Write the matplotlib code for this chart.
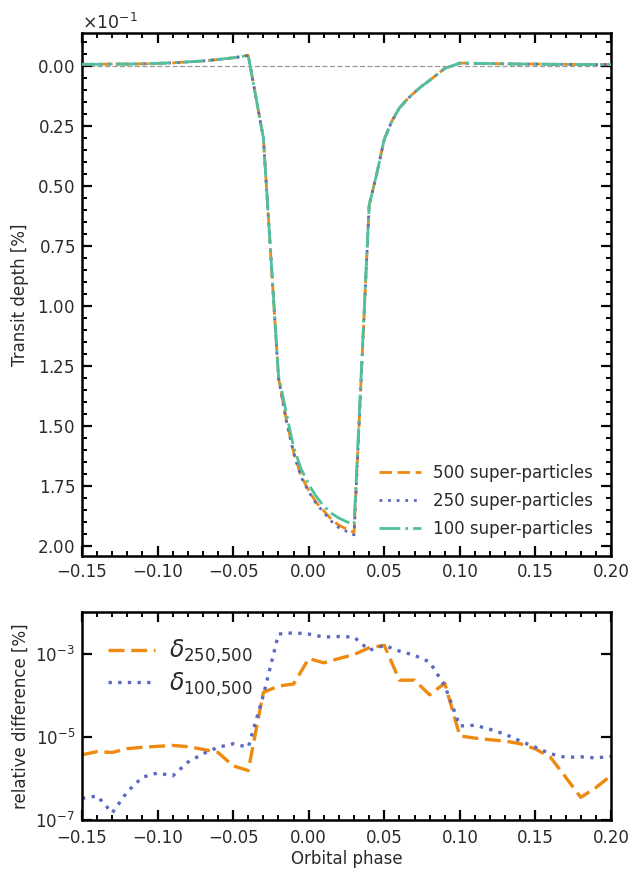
import matplotlib
matplotlib.use("Agg")
import matplotlib.pyplot as plt
from matplotlib.ticker import MultipleLocator, FixedLocator, NullLocator, LogFormatterMathtext

# ---------------- data ----------------
# Top panel: transit depth [%] vs orbital phase
phase_top = [-0.15, -0.14, -0.13, -0.12, -0.11, -0.10, -0.09, -0.08, -0.07, -0.06,
             -0.05, -0.04, -0.03, -0.02, -0.015, -0.01, -0.005, 0.0, 0.005, 0.01,
             0.015, 0.02, 0.025, 0.03, 0.04, 0.045, 0.05, 0.055, 0.06, 0.065,
             0.07, 0.075, 0.08, 0.09, 0.10, 0.11, 0.12, 0.13, 0.14, 0.15,
             0.16, 0.17, 0.18, 0.19, 0.20]
depth_500 = [-0.0007, -0.0007, -0.0008, -0.0008, -0.0009, -0.0011, -0.0013, -0.0017, -0.0021, -0.0027,
             -0.0034, -0.0044, 0.0300, 0.1300, 0.1470, 0.1610, 0.1710, 0.1770, 0.1820, 0.1855,
             0.1890, 0.1915, 0.1930, 0.1945, 0.0580, 0.0450, 0.0305, 0.0230, 0.0175, 0.0140,
             0.0110, 0.0083, 0.0060, 0.0010, -0.0012, -0.0011, -0.0010, -0.0009, -0.0008, -0.0008,
             -0.0007, -0.0007, -0.0006, -0.0006, -0.0006]
depth_250 = [-0.0007, -0.0007, -0.0008, -0.0008, -0.0009, -0.0011, -0.0013, -0.0017, -0.0021, -0.0027,
             -0.0034, -0.0044, 0.0300, 0.1300, 0.1475, 0.1615, 0.1715, 0.1775, 0.1825, 0.1862,
             0.1898, 0.1925, 0.1940, 0.1955, 0.0580, 0.0450, 0.0305, 0.0230, 0.0175, 0.0140,
             0.0110, 0.0083, 0.0060, 0.0010, -0.0012, -0.0011, -0.0010, -0.0009, -0.0008, -0.0008,
             -0.0007, -0.0007, -0.0006, -0.0006, -0.0006]
depth_100 = [-0.0007, -0.0007, -0.0008, -0.0008, -0.0009, -0.0011, -0.0013, -0.0017, -0.0021, -0.0027,
             -0.0034, -0.0044, 0.0300, 0.1290, 0.1440, 0.1590, 0.1680, 0.1745, 0.1795, 0.1835,
             0.1865, 0.1885, 0.1900, 0.1910, 0.0580, 0.0450, 0.0305, 0.0230, 0.0175, 0.0140,
             0.0110, 0.0083, 0.0060, 0.0010, -0.0012, -0.0011, -0.0010, -0.0009, -0.0008, -0.0008,
             -0.0007, -0.0007, -0.0006, -0.0006, -0.0006]

# Bottom panel: relative difference [%]
phase_bot = [-0.15, -0.14, -0.13, -0.12, -0.11, -0.10, -0.09, -0.08, -0.07, -0.06,
             -0.05, -0.04, -0.03, -0.02, -0.01, 0.00, 0.01, 0.02, 0.03, 0.04,
             0.05, 0.06, 0.07, 0.08, 0.09, 0.10, 0.11, 0.12, 0.13, 0.14,
             0.15, 0.16, 0.17, 0.18, 0.19, 0.20]
delta_250_500 = [3.7e-6, 4.4e-6, 4.2e-6, 5.2e-6, 5.6e-6, 5.9e-6, 6.2e-6, 5.8e-6, 5.0e-6, 4.2e-6,
                 2.0e-6, 1.55e-6, 1.17e-4, 1.66e-4, 1.86e-4, 7.6e-4, 6.0e-4, 7.6e-4, 9.5e-4, 1.38e-3,
                 1.58e-3, 2.3e-4, 2.3e-4, 1.02e-4, 1.95e-4, 1.05e-5, 9.3e-6, 8.5e-6, 7.9e-6, 6.8e-6,
                 5.1e-6, 3.2e-6, 1.07e-6, 3.5e-7, 6.0e-7, 1.17e-6]
delta_100_500 = [3.3e-7, 3.8e-7, 1.48e-7, 4.8e-7, 1.07e-6, 1.35e-6, 1.15e-6, 2.45e-6, 3.9e-6, 5.6e-6,
                 6.8e-6, 5.6e-6, 1.0e-4, 2.95e-3, 3.16e-3, 2.95e-3, 2.5e-3, 2.57e-3, 2.5e-3, 1.2e-3,
                 1.58e-3, 1.15e-3, 9.1e-4, 6.3e-4, 1.7e-4, 1.82e-5, 1.9e-5, 1.51e-5, 1.15e-5, 7.9e-6,
                 5.6e-6, 3.9e-6, 3.2e-6, 3.3e-6, 3.1e-6, 3.4e-6]

labels_top = ["500 super-particles", "250 super-particles", "100 super-particles"]
labels_bot = [r"$\delta_{250{,}500}$", r"$\delta_{100{,}500}$"]

# ---------------- style ----------------
C_OR = "#ee8a10"
C_BL = "#5b69c0"
C_GR = "#4fc1a0"
TXT = "#2a2a2a"

plt.rcParams.update({
    "font.family": ["DejaVu Sans"],
    "font.size": 12,
    "text.color": TXT,
    "axes.labelcolor": TXT,
    "xtick.color": "black",
    "ytick.color": "black",
    "xtick.labelcolor": TXT,
    "ytick.labelcolor": TXT,
    "axes.linewidth": 1.8,
    "mathtext.fontset": "dejavusans",
})

fig = plt.figure(figsize=(6.31, 8.73), dpi=100)
W, H = 631, 873
ax1 = fig.add_axes([82 / W, (H - 556) / H, 529 / W, (556 - 33) / H])
ax2 = fig.add_axes([82 / W, (H - 820) / H, 529 / W, (820 - 612) / H])


def style_ticks(ax):
    ax.tick_params(which="both", direction="in", top=True, right=True)
    ax.tick_params(which="major", length=7, width=1.6, labelsize=12, pad=5)
    ax.tick_params(which="minor", length=3.6, width=1.4)


# top panel
ax1.axhline(0.0, color="#999999", lw=0.9, ls=(0, (4, 2)), zorder=1)
ax1.plot(phase_top, depth_500, color=C_OR, lw=2.0, ls=(0, (4.5, 2)), label=labels_top[0], zorder=3)
ax1.plot(phase_top, depth_250, color=C_BL, lw=2.0, ls=(0, (1, 2.1)), label=labels_top[1], zorder=4)
ax1.plot(phase_top, depth_100, color=C_GR, lw=2.0, ls=(0, (7.5, 1.8, 1, 1.8)), label=labels_top[2], zorder=5)
ax1.set_xlim(-0.15, 0.20)
ax1.set_ylim(0.2043, -0.01375)
ax1.xaxis.set_major_locator(MultipleLocator(0.05))
ax1.xaxis.set_minor_locator(MultipleLocator(0.01))
ax1.yaxis.set_major_locator(MultipleLocator(0.025))
ax1.yaxis.set_minor_locator(MultipleLocator(0.005))
ax1.ticklabel_format(axis="y", style="sci", scilimits=(0, 0), useMathText=True)
ax1.yaxis.get_offset_text().set_fontsize(12.5)
ax1.set_ylabel("Transit depth [%]", fontsize=12, labelpad=6)
style_ticks(ax1)
ax1.legend(loc="lower right", frameon=False, fontsize=12, handlelength=2.5,
           handletextpad=0.7, labelspacing=0.6, borderaxespad=0.7)

# bottom panel
ax2.plot(phase_bot, delta_250_500, color=C_OR, lw=2.4, ls=(0, (4.8, 2)), label=labels_bot[0])
ax2.plot(phase_bot, delta_100_500, color=C_BL, lw=2.4, ls=(0, (1, 1.9)), label=labels_bot[1])
ax2.set_yscale("log")
ax2.set_xlim(-0.15, 0.20)
ax2.set_ylim(1e-7, 1e-2)
ax2.xaxis.set_major_locator(MultipleLocator(0.05))
ax2.xaxis.set_minor_locator(MultipleLocator(0.01))
ax2.yaxis.set_major_locator(FixedLocator([1e-7, 1e-5, 1e-3]))
ax2.yaxis.set_major_formatter(LogFormatterMathtext())
ax2.yaxis.set_minor_locator(NullLocator())
ax2.set_xlabel("Orbital phase", fontsize=12, labelpad=2)
ax2.set_ylabel("relative difference [%]", fontsize=12, labelpad=4)
style_ticks(ax2)
ax2.tick_params(axis="x", which="major", pad=6.5)
ax2.legend(loc="upper left", frameon=False, fontsize=17, handlelength=2.0,
           handletextpad=0.6, labelspacing=0.2, borderaxespad=0.7)

fig.savefig("out.png", dpi=100)
